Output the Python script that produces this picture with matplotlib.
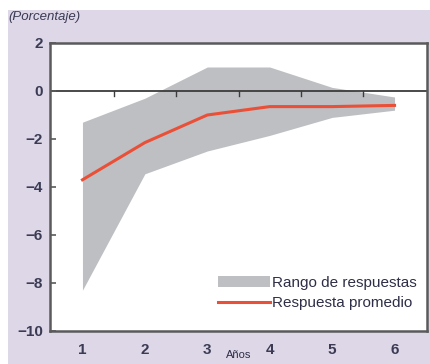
import numpy as np
import matplotlib.pyplot as plt
from matplotlib.patches import Rectangle

# Years after the shock
years = [1, 2, 3, 4, 5, 6]
# Range of responses (upper and lower bounds)
range_high = [-1.3, -0.3, 1.0, 1.0, 0.15, -0.25]
range_low = [-8.3, -3.45, -2.5, -1.85, -1.1, -0.8]
# Average response
avg_response = [-3.7, -2.15, -1.0, -0.65, -0.65, -0.6]
y_ticks = [-10, -8, -6, -4, -2, 0, 2]

text_col = '#2e2e48'
spine_col = '#5a5a5a'

fig = plt.figure(figsize=(4.3, 3.64), dpi=100)
fig.patch.set_facecolor('white')
# lavender panel behind the chart
fig.patches.append(Rectangle((8/430, 0), 1 - 8/430, 1 - 10/364,
                             transform=fig.transFigure, facecolor='#ddd7e7',
                             edgecolor='none', zorder=-1))

ax = fig.add_axes([50/430, 1 - 331/364, 377/430, 288/364])
ax.set_facecolor('white')

ax.fill_between(years, range_low, range_high, color='#bdbfc2', lw=0,
                label='Rango de respuestas')
ax.plot(years, avg_response, color='#ea5038', lw=2.2,
        label='Respuesta promedio')

# zero line with small ticks between years
ax.axhline(0, color='#3c3c3c', lw=1.3, zorder=1)
for xm in np.arange(1.5, 6, 1.0):
    ax.plot([xm, xm], [0, -0.2], color='#3c3c3c', lw=1.0)

ax.set_xlim(0.48, 6.52)
ax.set_ylim(-10, 2)
ax.set_yticks(y_ticks)
ax.set_yticklabels(['\u221210', '\u22128', '\u22126', '\u22124', '\u22122', '0', '2'])
ax.set_xticks(years)
ax.tick_params(axis='x', length=0, pad=9)
ax.tick_params(axis='y', direction='in', length=4, width=1.2, color=spine_col, pad=5)
for lab in ax.get_xticklabels() + ax.get_yticklabels():
    lab.set_fontsize(11)
    lab.set_fontweight('bold')
    lab.set_color('#3b3b55')
    lab.set_family('Liberation Sans')

for sp in ax.spines.values():
    sp.set_color(spine_col)
    sp.set_linewidth(1.8)

ax.set_xlabel('Años', fontsize=8, color=text_col,
              family='Liberation Sans')
ax.xaxis.set_label_coords(0.5, -0.065)

fig.text(8/430, 1 - 17/364, '(Porcentaje)', fontsize=9.5, style='italic',
         color='#3b3b55', va='center', ha='left', family='Liberation Sans')

leg = ax.legend(loc='lower right', frameon=False,
                handlelength=3.4, handletextpad=0.15, labelspacing=0.45,
                borderaxespad=0.0, bbox_to_anchor=(0.99, 0.05),
                prop={'family': 'Liberation Sans', 'size': 11})
for t in leg.get_texts():
    t.set_color(text_col)

fig.savefig('out.png', dpi=100)
